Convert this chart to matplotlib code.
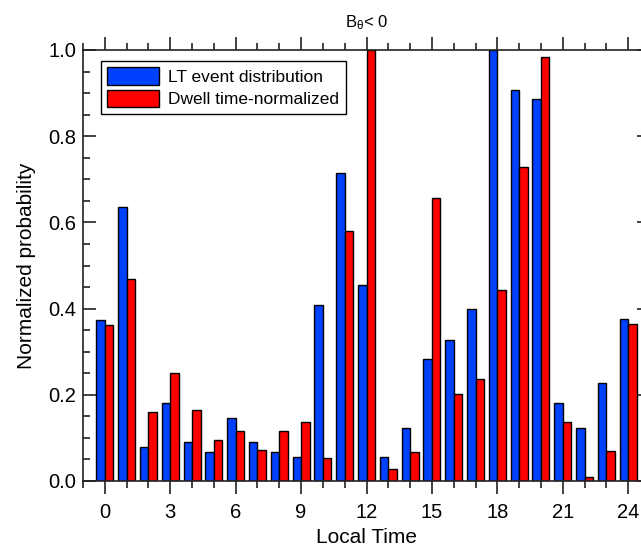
import numpy as np
import matplotlib.pyplot as plt
from matplotlib.ticker import MultipleLocator

plt.rcParams['font.family'] = ['Liberation Sans', 'DejaVu Sans']
plt.rcParams['mathtext.fontset'] = 'custom'
plt.rcParams['mathtext.rm'] = 'Liberation Sans'
plt.rcParams['mathtext.it'] = 'Liberation Sans'

hours = np.arange(0, 25)
lt_events = [0.374, 0.635, 0.078, 0.182, 0.090, 0.067, 0.147, 0.090, 0.067, 0.056,
             0.408, 0.714, 0.454, 0.056, 0.124, 0.283, 0.327, 0.398, 1.000, 0.907,
             0.886, 0.182, 0.124, 0.227, 0.375]
dwell_norm = [0.363, 0.469, 0.159, 0.251, 0.164, 0.095, 0.115, 0.071, 0.116, 0.138,
              0.053, 0.580, 1.000, 0.027, 0.067, 0.657, 0.203, 0.237, 0.442, 0.729,
              0.984, 0.136, 0.010, 0.070, 0.364]

fig = plt.figure(figsize=(6.41, 5.47), dpi=100)
ax = fig.add_axes([83 / 641, 66 / 547, 567 / 641, 431 / 547])

w = 0.39
ax.bar(hours, lt_events, width=-w, align='edge', color='#0040ff',
       edgecolor='black', linewidth=1.0, label='LT event distribution')
ax.bar(hours, dwell_norm, width=w, align='edge', color='#ff0000',
       edgecolor='black', linewidth=1.0, label='Dwell time-normalized')

ax.set_xlim(-1, 25)
ax.set_ylim(0, 1.0)
ax.xaxis.set_major_locator(MultipleLocator(3))
ax.xaxis.set_minor_locator(MultipleLocator(1))
ax.yaxis.set_major_locator(MultipleLocator(0.2))
ax.yaxis.set_minor_locator(MultipleLocator(0.05))
ax.yaxis.set_major_formatter(plt.FormatStrFormatter('%.1f'))

ax.tick_params(axis='x', which='both', direction='out', top=True, bottom=True,
               labelsize=14.5, width=1.2, color='#222222')
ax.tick_params(axis='y', which='both', direction='in', left=True, right=True,
               labelsize=14.5, width=1.2, color='#222222')
ax.tick_params(which='major', length=9.5)
ax.tick_params(which='minor', length=5)
ax.tick_params(axis='x', which='major', pad=6)
ax.tick_params(axis='y', which='major', pad=5)
for s in ax.spines.values():
    s.set_linewidth(1.2)
    s.set_color('#222222')

ax.set_xlabel('Local Time', fontsize=15, labelpad=5)
ax.set_ylabel('Normalized probability', fontsize=15, labelpad=9)
ax.set_title(r'B$_\theta$< 0', fontsize=12, pad=16)

leg = ax.legend(loc='upper left', bbox_to_anchor=(0.031, 0.975), fontsize=12.5,
                frameon=True, fancybox=False, edgecolor='black', framealpha=1,
                handlelength=3.0, handleheight=1.15, handletextpad=0.5,
                borderpad=0.38, labelspacing=0.28, borderaxespad=0)
leg.get_frame().set_linewidth(1.0)

fig.savefig('out.png', dpi=100)
